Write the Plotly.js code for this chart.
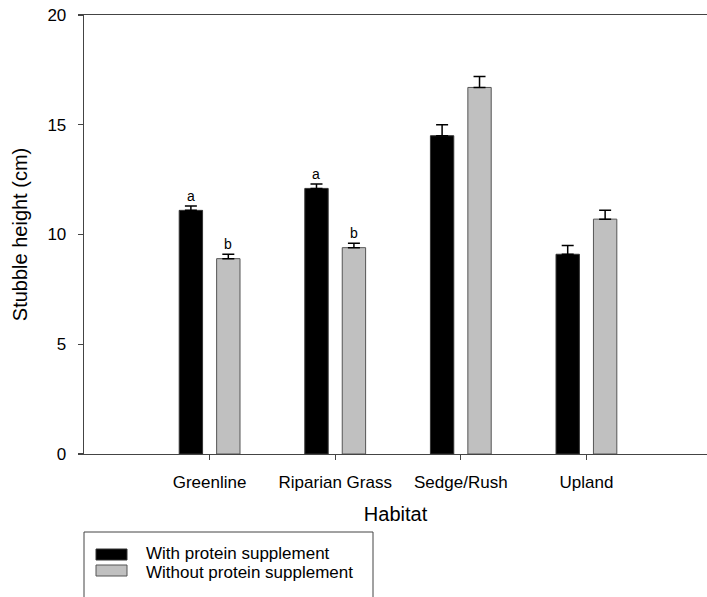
<!DOCTYPE html>
<html>
<head>
<meta charset="utf-8">
<script src="https://cdn.plot.ly/plotly-3.0.1.min.js"></script>
<style>html,body{margin:0;padding:0;background:#fff;overflow:hidden}#chart{width:707px;height:597px}</style>
</head>
<body>
<div id="chart"></div>
<script>
var habitats = ["Greenline", "Riparian Grass", "Sedge/Rush", "Upland"];
var withSupp = [11.1, 12.1, 14.5, 9.1];
var withSuppErr = [0.2, 0.2, 0.5, 0.4];
var withoutSupp = [8.9, 9.4, 16.7, 10.7];
var withoutSuppErr = [0.2, 0.2, 0.5, 0.4];
var withLetters = ["a", "a", "", ""];
var withoutLetters = ["b", "b", "", ""];
var seriesNames = ["With protein supplement", "Without protein supplement"];

var idx = habitats.map(function(_, i){ return i; });
var W = 0.186, OFF = 0.149;

var traces = [
  {type: "bar", name: seriesNames[0], x: idx, y: withSupp, width: W, offset: -OFF - W/2,
   marker: {color: "#000000", line: {color: "#333333", width: 1}},
   error_y: {type: "data", symmetric: false, array: withSuppErr, arrayminus: withSuppErr.map(function(){return 0;}),
             color: "#000000", thickness: 1.5, width: 6},
   showlegend: false, hoverinfo: "skip"},
  {type: "bar", name: seriesNames[1], x: idx, y: withoutSupp, width: W, offset: OFF - W/2,
   marker: {color: "#c0c0c0", line: {color: "#555555", width: 1}},
   error_y: {type: "data", symmetric: false, array: withoutSuppErr, arrayminus: withoutSuppErr.map(function(){return 0;}),
             color: "#000000", thickness: 1.5, width: 6},
   showlegend: false, hoverinfo: "skip"}
];

var annotations = [];
idx.forEach(function(i){
  if (withLetters[i]) annotations.push({x: i - OFF, y: withSupp[i] + withSuppErr[i], xref: "x", yref: "y",
    text: withLetters[i], showarrow: false, yanchor: "bottom", yshift: 0, font: {size: 14, color: "#000"}});
  if (withoutLetters[i]) annotations.push({x: i + OFF, y: withoutSupp[i] + withoutSuppErr[i], xref: "x", yref: "y",
    text: withoutLetters[i], showarrow: false, yanchor: "bottom", yshift: 0, font: {size: 14, color: "#000"}});
});

// manual legend (paper coords): plot area x 84..707, y 15..454
function px(v){ return (v - 84) / 623; }
function py(v){ return (454 - v) / 439; }
var shapes = [
  {type: "rect", xref: "paper", yref: "paper", x0: px(84), x1: px(373), y0: py(532), y1: py(610),
   line: {color: "#444", width: 1}, fillcolor: "rgba(0,0,0,0)"},
  {type: "rect", xref: "paper", yref: "paper", x0: px(96), x1: px(127), y0: py(549), y1: py(560),
   line: {color: "#333", width: 1}, fillcolor: "#000000"},
  {type: "rect", xref: "paper", yref: "paper", x0: px(96), x1: px(127), y0: py(565), y1: py(576),
   line: {color: "#555", width: 1}, fillcolor: "#c0c0c0"}
];
annotations.push({xref: "paper", yref: "paper", x: px(144), y: py(553.5), text: seriesNames[0], showarrow: false,
  xanchor: "left", yanchor: "middle", font: {size: 17, color: "#000"}});
annotations.push({xref: "paper", yref: "paper", x: px(144), y: py(572.5), text: seriesNames[1], showarrow: false,
  xanchor: "left", yanchor: "middle", font: {size: 17, color: "#000"}});

var layout = {
  width: 707, height: 597,
  margin: {l: 84, r: 0, t: 15, b: 143},
  paper_bgcolor: "#fff", plot_bgcolor: "#fff",
  font: {family: "Liberation Sans, Arial, sans-serif", size: 17, color: "#000"},
  showlegend: false,
  xaxis: {range: [-1, 3.96], tickvals: idx, ticktext: habitats, showgrid: false, zeroline: false,
          showline: true, mirror: true, linecolor: "#444", linewidth: 1.3,
          ticks: "outside", ticklen: 5, tickcolor: "#444", tickwidth: 1.3, ticklabelstandoff: 7,
          tickfont: {size: 17}, title: {text: "Habitat", font: {size: 20}, standoff: 16}},
  yaxis: {range: [0, 20], tickvals: [0, 5, 10, 15, 20], showgrid: false, zeroline: false,
          showline: true, linecolor: "#444", linewidth: 1.3,
          ticks: "outside", ticklen: 5, tickcolor: "#444", tickwidth: 1.3, ticklabelstandoff: 8,
          tickfont: {size: 17}, title: {text: "Stubble height (cm)", font: {size: 20}, standoff: 14}},
  annotations: annotations,
  shapes: shapes
};

Plotly.newPlot("chart", traces, layout, {displayModeBar: false, staticPlot: true});
</script>
</body>
</html>
